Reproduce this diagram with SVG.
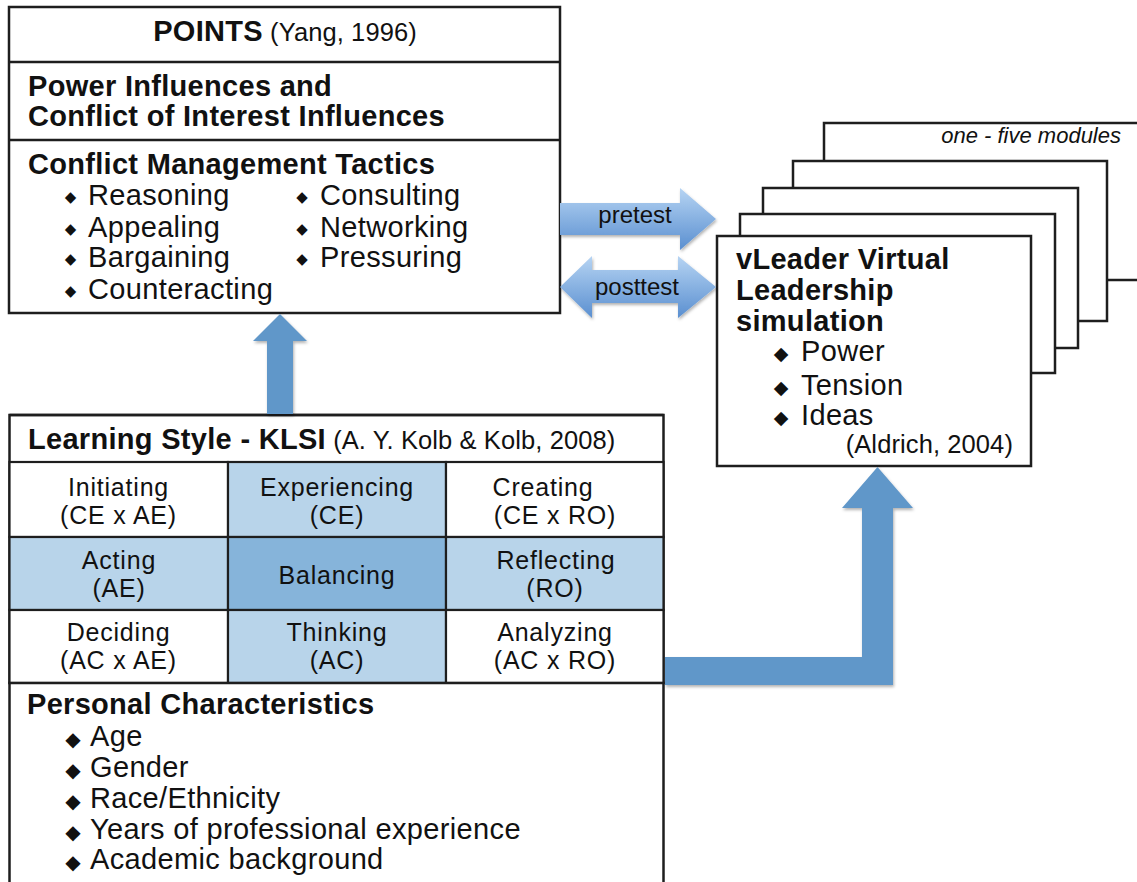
<svg xmlns="http://www.w3.org/2000/svg" width="1137" height="882" viewBox="0 0 1137 882">
<defs>
<linearGradient id="gArrow" x1="0" y1="0" x2="0" y2="1">
<stop offset="0" stop-color="#b6d4f3"/>
<stop offset="1" stop-color="#5a8fd0"/>
</linearGradient>
<filter id="sh" x="-10%" y="-10%" width="130%" height="130%">
<feDropShadow dx="1" dy="2" stdDeviation="1.5" flood-color="#000" flood-opacity="0.3"/>
</filter>
<style>
.box{fill:#fff;stroke:#1e1e1e;stroke-width:2.5}
.ln{stroke:#1e1e1e;stroke-width:2.5;fill:none}
.cw{fill:#fff;stroke:#1e1e1e;stroke-width:2.2}
.cl{fill:#b8d4ea;stroke:#1e1e1e;stroke-width:2.2}
.cd{fill:#86b4da;stroke:#1e1e1e;stroke-width:2.2}
text{font-family:"Liberation Sans",Arial,Helvetica,sans-serif;fill:#111}
.h{font-weight:bold;font-size:29px;letter-spacing:0.3px}
.r{font-size:29px;letter-spacing:0.35px}
.ref{font-size:25.5px;letter-spacing:0.1px}
.c{font-size:25px;letter-spacing:0.8px;text-anchor:middle}
.lab{font-size:24px;text-anchor:middle}
.it{font-style:italic;font-size:22px;text-anchor:end}
.bs{font-family:"DejaVu Sans",sans-serif;font-size:15px;text-anchor:middle}
.bm{font-family:"DejaVu Sans",sans-serif;font-size:19px;text-anchor:middle}
.bl{font-family:"DejaVu Sans",sans-serif;font-size:20px;text-anchor:middle}
.solid{fill:#6097c9;filter:url(#sh)}
.grad{fill:url(#gArrow);filter:url(#sh)}
</style>
</defs>

<g id="points">
<rect class="box" x="9" y="7" width="551" height="306"/>
<line class="ln" x1="9" y1="62" x2="560" y2="62"/>
<line class="ln" x1="9" y1="140" x2="560" y2="140"/>
<text x="285" y="41" text-anchor="middle"><tspan class="h">POINTS</tspan><tspan class="ref"> (Yang, 1996)</tspan></text>
<text class="h" x="28" y="96">Power Influences and</text>
<text class="h" x="28" y="126">Conflict of Interest Influences</text>
<text class="h" x="28" y="174">Conflict Management Tactics</text>
<text class="bs" x="70.5" y="202">◆</text><text class="r" x="88" y="205">Reasoning</text>
<text class="bs" x="70.5" y="234">◆</text><text class="r" x="88" y="237">Appealing</text>
<text class="bs" x="70.5" y="264">◆</text><text class="r" x="88" y="267">Bargaining</text>
<text class="bs" x="70.5" y="296">◆</text><text class="r" x="88" y="299">Counteracting</text>
<text class="bs" x="302" y="202">◆</text><text class="r" x="320" y="205">Consulting</text>
<text class="bs" x="302" y="234">◆</text><text class="r" x="320" y="237">Networking</text>
<text class="bs" x="302" y="264">◆</text><text class="r" x="320" y="267">Pressuring</text>
</g>

<g id="modules">
<rect class="box" x="824" y="123" width="340" height="157"/>
<text class="it" x="1121" y="143">one - five modules</text>
<rect class="box" x="793" y="161" width="314" height="160"/>
<rect class="box" x="763" y="188" width="315" height="160"/>
<rect class="box" x="740" y="214" width="315" height="159"/>
</g>

<g id="vleader">
<rect class="box" x="717" y="236" width="314" height="230"/>
<text class="h" x="736" y="269">vLeader Virtual</text>
<text class="h" x="736" y="300">Leadership</text>
<text class="h" x="736" y="331">simulation</text>
<text class="bm" x="781" y="360">◆</text><text class="r" x="801" y="361">Power</text>
<text class="bm" x="781" y="394">◆</text><text class="r" x="801" y="395">Tension</text>
<text class="bm" x="781" y="424">◆</text><text class="r" x="801" y="425">Ideas</text>
<text class="ref" x="1013" y="453" text-anchor="end">(Aldrich, 2004)</text>
</g>

<g id="klsi">
<rect class="box" x="9.5" y="415" width="654" height="268"/>
<rect class="cw" x="9.5" y="462" width="218.5" height="75"/>
<rect class="cl" x="228" y="462" width="218" height="75"/>
<rect class="cw" x="446" y="462" width="217.5" height="75"/>
<rect class="cl" x="9.5" y="537" width="218.5" height="73"/>
<rect class="cd" x="228" y="537" width="218" height="73"/>
<rect class="cl" x="446" y="537" width="217.5" height="73"/>
<rect class="cw" x="9.5" y="610" width="218.5" height="73"/>
<rect class="cl" x="228" y="610" width="218" height="73"/>
<rect class="cw" x="446" y="610" width="217.5" height="73"/>
<line class="ln" x1="9.5" y1="415" x2="663.5" y2="415"/>
<text x="28" y="449"><tspan class="h">Learning Style - KLSI</tspan><tspan class="ref"> (A. Y. Kolb &amp; Kolb, 2008)</tspan></text>
<text class="c" x="118.5" y="496">Initiating</text>
<text class="c" x="118.5" y="524">(CE x AE)</text>
<text class="c" x="337" y="496">Experiencing</text>
<text class="c" x="337" y="524">(CE)</text>
<text class="c" x="543" y="496">Creating</text>
<text class="c" x="555" y="524">(CE x RO)</text>
<text class="c" x="119" y="569">Acting</text>
<text class="c" x="119" y="597">(AE)</text>
<text class="c" x="337" y="584">Balancing</text>
<text class="c" x="556" y="569">Reflecting</text>
<text class="c" x="555" y="597">(RO)</text>
<text class="c" x="118.5" y="641">Deciding</text>
<text class="c" x="118.5" y="669">(AC x AE)</text>
<text class="c" x="337" y="641">Thinking</text>
<text class="c" x="337" y="669">(AC)</text>
<text class="c" x="555" y="641">Analyzing</text>
<text class="c" x="555" y="669">(AC x RO)</text>
</g>

<g id="personal">
<rect class="box" x="9.5" y="683" width="654" height="210"/>
<text class="h" x="27" y="714">Personal Characteristics</text>
<text class="bl" x="73" y="746">◆</text><text class="r" x="90" y="746">Age</text>
<text class="bl" x="73" y="777">◆</text><text class="r" x="90" y="777">Gender</text>
<text class="bl" x="73" y="808">◆</text><text class="r" x="90" y="808">Race/Ethnicity</text>
<text class="bl" x="73" y="839">◆</text><text class="r" x="90" y="839">Years of professional experience</text>
<text class="bl" x="73" y="869">◆</text><text class="r" x="90" y="869">Academic background</text>
</g>

<g id="connectors">
<polygon class="grad" points="560,203 680,203 680,188 716,219 680,250 680,235 560,235"/>
<text class="lab" x="635" y="223">pretest</text>
<polygon class="grad" points="560,287 592,256 592,270 678,270 678,256 716,287 678,318 678,303 592,303 592,318"/>
<text class="lab" x="637" y="295">posttest</text>
<polygon class="solid" points="267,414 267,341 253,341 280,314 307,341 293,341 293,414"/>
<polygon class="solid" points="665,657 862,657 862,508 842,508 877.5,467 913,508 893,508 893,685 665,685"/>
</g>
</svg>
